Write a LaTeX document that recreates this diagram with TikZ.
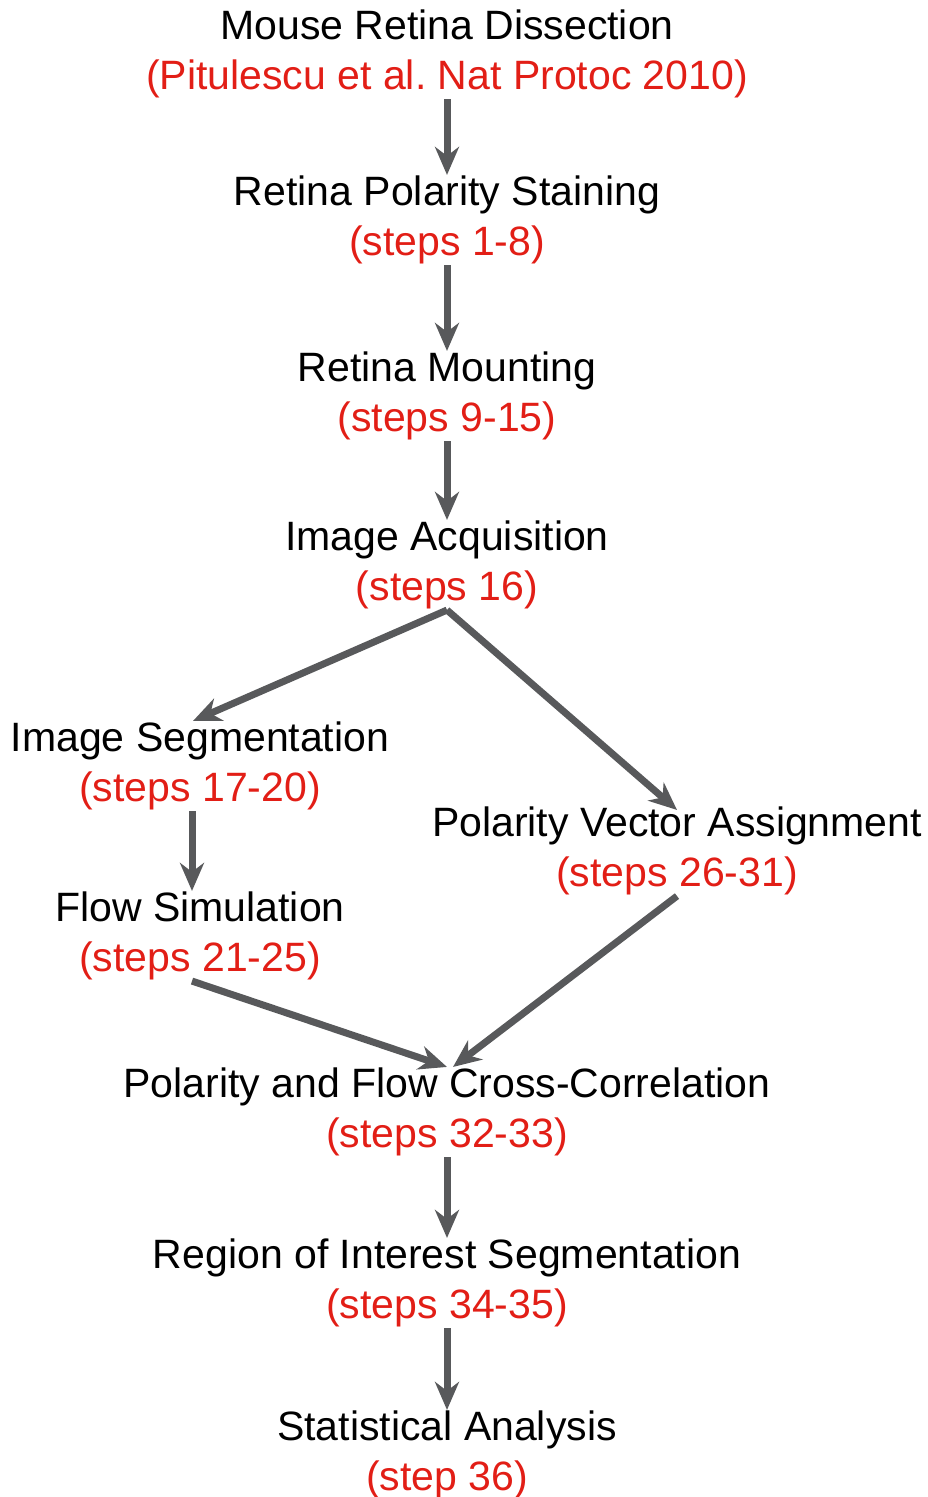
\documentclass[tikz,border=0pt]{standalone}
\usepackage{fontspec}
\setmainfont{Liberation Sans}
\usetikzlibrary{arrows.meta}
\definecolor{stepred}{RGB}{226,30,22}
\definecolor{arrowgray}{RGB}{88,89,91}
\newcommand{\stepref}[1]{\textcolor{stepred}{#1}}

\begin{document}
\begin{tikzpicture}[x=1pt,y=-1pt,
  stage/.style={align=center,font=\fontsize{41}{49.5}\selectfont,inner sep=1pt},
  flow/.style={draw=arrowgray,line width=7pt,-{Stealth[length=28pt,width=24pt,inset=9pt]}}]

\useasboundingbox (0,0) rectangle (927,1497);

%% Main column
\node [stage] (dissect) at (447,54) {Mouse Retina Dissection\\\stepref{(Pitulescu et al.\ Nat Protoc 2010)}};
\node [stage] (stain) at (447,220) {Retina Polarity Staining\\\stepref{(steps 1-8)}};
\node [stage] (mount) at (447,396) {Retina Mounting\\\stepref{(steps 9-15)}};
\node [stage] (acquire) at (447,565) {Image Acquisition\\\stepref{(steps 16)}};

%% Left branch
\node [stage] (segment) at (200,766) {Image Segmentation\\\stepref{(steps 17-20)}};
\node [stage] (simulate) at (200,936) {Flow Simulation\\\stepref{(steps 21-25)}};

%% Right branch
\node [stage] (vector) at (677,851) {Polarity Vector Assignment\\\stepref{(steps 26-31)}};

%% Merge
\node [stage] (correlate) at (447,1112) {Polarity and Flow Cross-Correlation\\\stepref{(steps 32-33)}};
\node [stage] (roi) at (447,1283) {Region of Interest Segmentation\\\stepref{(steps 34-35)}};
\node [stage] (stats) at (447,1455) {Statistical Analysis\\\stepref{(step 36)}};

%% Arrows
\draw [flow] (dissect.south) -- (stain.north);
\draw [flow] (stain.south) -- (mount.north);
\draw [flow] (mount.south) -- (acquire.north);
\draw [flow] (acquire.south) -- ([xshift=-7pt]segment.north);
\draw [flow] (acquire.south) -- ([yshift=-4pt]vector.north);
\draw [flow] ([xshift=-8pt]segment.south) -- ([xshift=-8pt]simulate.north);
\draw [flow] ([xshift=-8pt]simulate.south) -- (correlate.north);
\draw [flow] (vector.south) -- ([xshift=6pt]correlate.north);
\draw [flow] (correlate.south) -- (roi.north);
\draw [flow] (roi.south) -- (stats.north);

\end{tikzpicture}
\end{document}
